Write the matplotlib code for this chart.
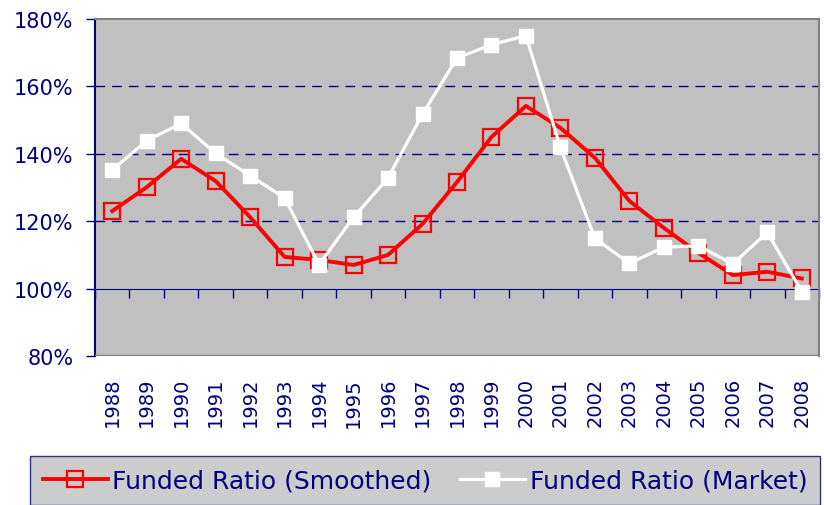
import numpy as np
import matplotlib.pyplot as plt
import matplotlib.transforms as mtransforms

years = [str(y) for y in range(1988, 2009)]
smoothed = [123.0, 130.1, 138.5, 131.9, 121.2, 109.4, 108.5, 107.0, 110.0, 119.2, 131.6,
            145.0, 154.2, 147.7, 138.8, 126.0, 118.0, 110.6, 104.0, 105.0, 103.0]
market = [135.2, 143.9, 149.0, 140.1, 133.5, 126.9, 107.1, 121.2, 132.8, 151.8, 168.4,
          172.4, 175.0, 141.9, 114.9, 107.5, 112.3, 112.7, 107.3, 116.7, 99.1]
yticks = [80, 100, 120, 140, 160, 180]

navy = '#000080'
gray_bg = '#C0C0C0'
border = '#808080'

fig = plt.figure(figsize=(8.24, 5.06), dpi=100)
ax = fig.add_axes([95 / 824, 1 - 357 / 506, 724 / 824, 337 / 506])
ax.set_facecolor(gray_bg)

x = np.arange(len(years))

# grid lines (dashed)
for g in [120, 140, 160]:
    ax.axhline(g, color=navy, lw=1, linestyle=(0, (7, 5)), zorder=1)

ax.plot(x, smoothed, color='#FF0000', lw=2.8, marker='s', markersize=11,
        markerfacecolor='none', markeredgecolor='#FF0000', markeredgewidth=1.6,
        label='Funded Ratio (Smoothed)', zorder=3)
ax.plot(x, market, color='white', lw=2.3, marker='s', markersize=10,
        markerfacecolor='white', markeredgecolor='white',
        label='Funded Ratio (Market)', zorder=4)

ax.set_xlim(-0.5, len(years) - 0.5)
ax.set_ylim(80, 180)

# category axis crosses at 100%
ax.spines['bottom'].set_position(('data', 100))
ax.spines['bottom'].set_color(navy)
ax.spines['bottom'].set_zorder(2)
ax.set_xticks(np.arange(-0.5, len(years), 1.0))
ax.set_xticklabels([])
ax.tick_params(axis='x', direction='out', length=6.5, width=1, color=navy)

# frame of plot area
ax.spines['left'].set_color(navy)
ax.spines['right'].set_color(border)
ax.spines['top'].set_color(border)
for s in ['left', 'right', 'top']:
    ax.spines[s].set_linewidth(1.5)
ax.axhline(80, color=border, lw=2.5, zorder=5)

ax.set_yticks(yticks)
ax.set_yticklabels([f'{v}%' for v in yticks], color=navy, fontsize=15)
ax.tick_params(axis='y', direction='out', length=6.5, width=1, color=navy, pad=9)

# year labels below the plot area
trans = mtransforms.blended_transform_factory(ax.transData, ax.transAxes)
for i, yr in enumerate(years):
    ax.text(i, -0.062, yr, transform=trans, rotation=90, ha='center', va='top',
            color=navy, fontsize=14)

leg = fig.legend(loc='upper left', bbox_to_anchor=(30 / 824, 1 - 457 / 506, 790 / 824, 0),
                 mode='expand', ncol=2, frameon=True, fancybox=False, fontsize=18,
                 handlelength=2.6, handletextpad=0.2, columnspacing=0.6,
                 borderpad=0.5, borderaxespad=0, labelcolor=navy)
leg.get_frame().set_facecolor(gray_bg)
leg.get_frame().set_edgecolor(navy)
leg.get_frame().set_linewidth(1)

fig.savefig('out.png', dpi=100)
